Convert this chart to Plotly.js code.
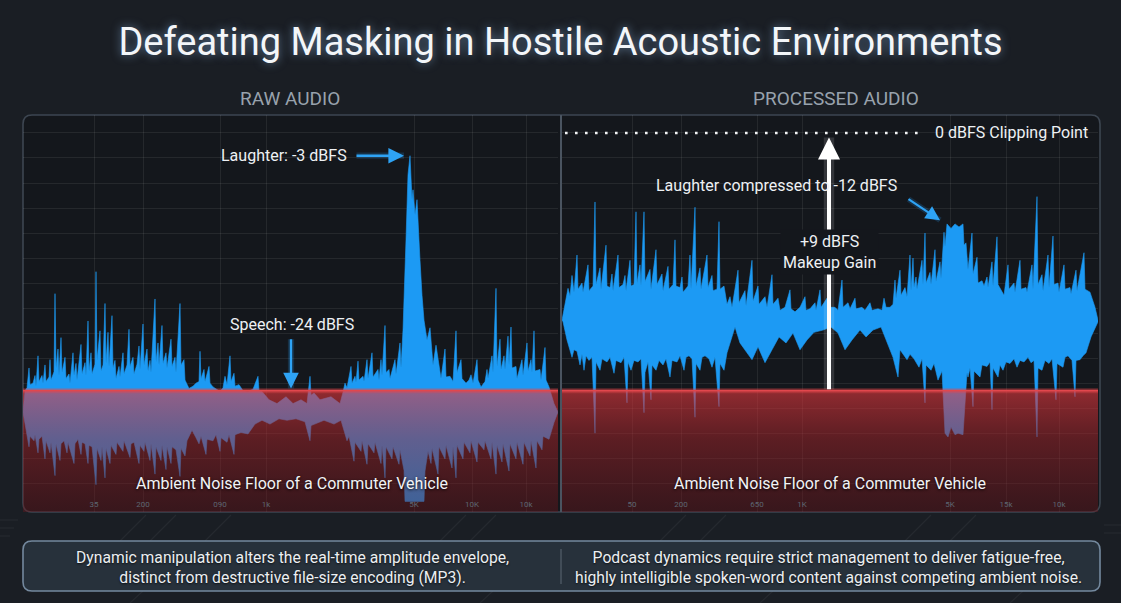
<!DOCTYPE html>
<html>
<head>
<meta charset="utf-8">
<script src="https://cdn.plot.ly/plotly-3.0.1.min.js"></script>
<style>
  html, body { margin: 0; padding: 0; background: #1a1e24; }
  #chart { width: 1121px; height: 603px; }
</style>
</head>
<body>
<div id="chart"></div>
<script>
// ---- Waveform envelopes: [time (ms into the clip), level (dBFS)] ----
const rawPeaks = [[0,-36.8],[2,-34.0],[4,-33.6],[6,-31.0],[7,-33.2],[10,-33.0],[12,-32.0],[13,-33.4],[15,-29.4],[16,-32.8],[19,-32.0],[20,-33.0],[22,-30.6],[23,-32.8],[26,-32.2],[27,-29.9],[28,-32.6],[31,-31.5],[32,-21.2],[33,-31.0],[35,-28.5],[36,-32.0],[38,-27.0],[39,-31.6],[42,-29.6],[43,-32.4],[46,-31.8],[47,-33.0],[50,-29.0],[51,-32.0],[53,-30.4],[54,-32.6],[58,-27.9],[59,-31.8],[62,-30.3],[63,-32.0],[65,-24.8],[66,-31.5],[68,-29.0],[69,-31.8],[72,-30.5],[73,-18.3],[74,-30.0],[77,-26.1],[78,-31.4],[80,-30.6],[82,-22.5],[83,-30.4],[85,-26.3],[86,-30.8],[89,-24.1],[90,-31.0],[92,-30.0],[93,-32.4],[96,-30.8],[97,-32.2],[100,-29.0],[101,-31.8],[104,-30.6],[106,-25.9],[107,-30.8],[110,-29.6],[111,-31.8],[114,-30.5],[116,-28.1],[117,-31.2],[120,-25.2],[121,-30.6],[124,-28.5],[125,-31.4],[127,-30.0],[128,-31.6],[132,-21.9],[133,-30.2],[135,-27.7],[136,-30.6],[139,-25.4],[140,-30.4],[143,-29.0],[144,-31.0],[148,-27.2],[149,-30.8],[152,-29.6],[153,-31.6],[157,-22.5],[158,-30.6],[161,-29.9],[162,-32.6],[166,-33.7],[170,-33.4],[173,-33.0],[176,-32.8],[177,-28.8],[178,-32.4],[181,-31.2],[182,-32.8],[186,-30.8],[187,-33.0],[190,-33.5],[197,-34.1],[200,-33.6],[202,-32.1],[204,-33.2],[207,-29.4],[208,-32.8],[211,-31.7],[212,-33.4],[216,-33.2],[220,-34.0],[225,-34.1],[230,-33.8],[235,-32.1],[236,-34.0],[239,-34.1],[246,-35.2],[254,-35.7],[263,-34.8],[270,-35.7],[278,-35.2],[284,-35.7],[287,-32.1],[288,-34.6],[291,-34.3],[297,-35.2],[308,-34.8],[317,-35.7],[320,-34.2],[322,-33.0],[324,-33.6],[328,-30.8],[329,-33.0],[332,-32.1],[333,-32.9],[335,-30.1],[336,-32.6],[340,-32.1],[341,-32.8],[344,-29.9],[345,-32.4],[349,-29.0],[350,-32.2],[355,-31.2],[356,-32.6],[358,-29.9],[359,-32.0],[362,-25.4],[363,-31.6],[366,-31.2],[367,-32.4],[372,-29.9],[373,-31.8],[377,-27.7],[378,-31.0],[380,-26.0],[383,-14.1],[385,-5.5],[387,-3.0],[389,-8.8],[390,-7.5],[392,-10.8],[394,-8.8],[396,-13.1],[397,-16.8],[399,-21.4],[401,-24.7],[404,-27.3],[407,-25.7],[410,-30.6],[413,-28.0],[417,-31.5],[418,-32.4],[422,-28.5],[423,-32.2],[427,-32.1],[430,-32.8],[433,-26.1],[434,-31.6],[438,-29.9],[439,-32.4],[443,-33.0],[446,-32.6],[448,-31.9],[450,-33.0],[454,-29.9],[455,-32.6],[458,-33.5],[462,-32.8],[464,-31.2],[465,-32.4],[469,-29.4],[470,-31.6],[473,-20.5],[474,-30.8],[477,-27.2],[478,-31.2],[481,-29.4],[482,-31.2],[485,-26.8],[486,-30.6],[488,-25.6],[489,-31.0],[493,-30.8],[494,-32.4],[499,-29.9],[500,-32.0],[504,-27.7],[505,-31.4],[508,-29.9],[509,-31.6],[511,-26.1],[512,-31.4],[517,-31.2],[518,-32.6],[522,-28.3],[523,-32.6],[526,-33.5],[531,-35.7],[535,-36.8]];

const rawTroughs = [[0,-36.8],[3,-39.2],[6,-41.4],[7,-40.0],[11,-40.6],[12,-39.8],[15,-42.2],[16,-40.4],[19,-40.0],[22,-43.0],[23,-40.6],[27,-42.2],[28,-40.8],[32,-45.2],[33,-41.0],[37,-43.2],[38,-41.0],[41,-40.6],[44,-42.2],[45,-40.8],[51,-43.6],[52,-41.0],[55,-40.4],[58,-42.4],[59,-40.8],[62,-41.0],[65,-43.6],[66,-41.2],[69,-41.4],[73,-46.4],[74,-41.6],[78,-43.2],[79,-41.4],[82,-45.5],[83,-41.6],[87,-43.6],[88,-41.2],[93,-42.4],[94,-40.8],[100,-42.0],[101,-40.6],[107,-42.8],[108,-41.0],[111,-40.8],[116,-43.6],[117,-41.2],[121,-42.0],[122,-40.8],[127,-43.2],[128,-41.0],[132,-45.0],[133,-41.4],[138,-43.2],[139,-41.2],[143,-44.4],[144,-41.4],[148,-43.6],[149,-41.4],[153,-41.8],[157,-45.3],[158,-41.6],[162,-42.6],[164,-40.6],[169,-39.2],[173,-40.2],[176,-41.0],[178,-40.0],[183,-42.4],[184,-40.4],[190,-40.6],[193,-39.8],[197,-42.0],[198,-40.2],[204,-40.8],[206,-39.8],[211,-42.4],[212,-39.8],[218,-39.5],[225,-39.7],[232,-38.4],[239,-37.9],[247,-38.4],[256,-37.7],[264,-37.9],[273,-37.7],[282,-38.1],[287,-40.6],[288,-38.6],[292,-38.4],[301,-37.9],[311,-38.4],[318,-37.9],[324,-40.6],[326,-40.0],[331,-43.3],[332,-40.8],[338,-42.0],[339,-40.6],[344,-43.7],[345,-41.0],[351,-42.2],[352,-40.8],[358,-43.6],[359,-41.2],[362,-45.5],[363,-41.4],[369,-43.0],[370,-41.4],[376,-43.7],[377,-41.8],[381,-44.5],[382,-48.6],[401,-48.6],[402,-44.6],[405,-42.0],[408,-43.6],[409,-41.6],[415,-45.0],[416,-41.4],[422,-43.0],[423,-41.2],[429,-44.2],[430,-41.4],[433,-45.5],[434,-41.2],[440,-43.0],[441,-40.8],[447,-42.2],[448,-40.6],[454,-43.4],[455,-40.8],[461,-41.8],[462,-40.6],[468,-43.0],[469,-40.8],[473,-45.0],[474,-41.2],[479,-43.4],[480,-41.0],[486,-44.6],[487,-41.0],[493,-43.0],[494,-40.8],[500,-43.7],[501,-40.8],[507,-42.6],[508,-40.6],[513,-44.2],[514,-40.6],[519,-41.8],[520,-40.0],[526,-40.4],[531,-38.2],[535,-36.8]];

const procPeaks = [[0,-24.7],[3,-22.5],[6,-20.5],[8,-21.5],[10,-18.8],[12,-21.0],[15,-16.1],[16,-20.6],[20,-19.8],[21,-21.0],[26,-17.4],[27,-20.8],[31,-20.2],[33,-9.1],[34,-20.0],[38,-17.8],[39,-20.6],[44,-14.8],[45,-20.2],[48,-20.4],[50,-18.6],[51,-20.8],[56,-16.1],[57,-20.4],[61,-20.0],[63,-18.8],[64,-20.8],[68,-16.8],[69,-20.2],[72,-20.0],[74,-10.4],[75,-19.8],[78,-17.4],[79,-20.2],[82,-10.4],[83,-19.6],[88,-18.0],[89,-20.6],[94,-15.4],[95,-20.0],[100,-18.6],[101,-20.8],[106,-17.6],[107,-20.6],[111,-20.0],[113,-14.1],[114,-20.2],[118,-20.4],[120,-19.0],[121,-21.0],[126,-20.2],[128,-16.1],[129,-20.6],[133,-9.8],[134,-20.2],[138,-17.8],[139,-20.6],[145,-16.1],[146,-20.4],[150,-18.8],[151,-20.8],[155,-20.6],[157,-11.7],[158,-20.6],[162,-20.2],[165,-22.6],[168,-21.6],[170,-23.0],[176,-18.1],[177,-22.4],[183,-20.8],[184,-22.8],[190,-16.8],[191,-22.2],[196,-20.2],[197,-22.6],[203,-21.6],[205,-23.0],[210,-18.7],[211,-22.6],[216,-21.8],[218,-23.4],[223,-23.0],[228,-20.7],[229,-23.2],[233,-23.6],[238,-23.0],[243,-21.6],[244,-23.4],[248,-23.2],[253,-22.4],[254,-23.4],[258,-20.7],[259,-23.0],[265,-21.8],[267,-23.0],[273,-23.0],[276,-23.4],[280,-19.4],[281,-23.0],[286,-22.4],[288,-23.2],[293,-21.8],[294,-23.2],[300,-23.0],[303,-23.4],[308,-22.4],[310,-23.4],[316,-23.2],[320,-23.4],[322,-21.8],[324,-23.0],[328,-23.0],[331,-22.6],[333,-19.4],[334,-21.8],[338,-18.1],[339,-21.4],[343,-20.4],[345,-21.6],[348,-16.1],[349,-20.8],[351,-16.5],[352,-20.4],[354,-19.0],[355,-20.6],[360,-16.8],[361,-20.0],[363,-13.2],[364,-19.8],[368,-18.4],[369,-20.0],[373,-15.4],[374,-19.6],[378,-17.0],[379,-19.2],[382,-13.1],[383,-15.0],[385,-12.0],[389,-12.6],[393,-12.0],[397,-12.4],[401,-12.0],[402,-14.8],[404,-14.5],[406,-18.0],[410,-13.2],[411,-18.6],[415,-16.4],[416,-19.8],[420,-19.5],[422,-20.2],[425,-19.0],[426,-20.4],[430,-17.0],[431,-20.2],[435,-13.7],[436,-20.0],[440,-21.0],[442,-21.4],[446,-17.4],[447,-20.6],[452,-19.8],[453,-21.0],[458,-16.8],[459,-20.6],[464,-20.4],[465,-21.0],[470,-17.4],[471,-20.6],[475,-8.4],[476,-20.0],[480,-18.7],[481,-20.8],[486,-16.1],[487,-20.4],[491,-13.6],[492,-20.0],[496,-19.8],[497,-21.0],[502,-17.4],[503,-20.6],[508,-20.4],[509,-21.2],[514,-18.1],[515,-20.8],[522,-15.8],[523,-20.6],[528,-21.0],[533,-23.0],[536,-24.7]];

const procTroughs = [[0,-24.7],[1,-24.9],[5,-27.3],[7,-28.4],[10,-29.6],[12,-28.6],[15,-28.8],[18,-30.6],[20,-29.2],[22,-31.3],[24,-29.4],[27,-30.0],[30,-29.6],[33,-39.6],[34,-30.2],[38,-31.3],[40,-29.8],[45,-30.2],[48,-29.6],[52,-31.7],[54,-30.0],[59,-30.3],[62,-29.6],[65,-35.6],[66,-30.2],[69,-31.3],[72,-30.0],[76,-30.2],[79,-29.8],[82,-36.9],[83,-31.6],[86,-30.2],[89,-35.2],[90,-30.6],[94,-31.3],[97,-30.0],[101,-30.6],[104,-29.8],[108,-32.2],[110,-30.0],[115,-30.2],[118,-29.4],[122,-31.3],[124,-29.6],[127,-29.4],[130,-29.8],[133,-37.5],[134,-30.4],[138,-31.3],[140,-29.6],[143,-29.4],[147,-29.8],[150,-30.9],[153,-29.6],[157,-36.1],[158,-30.4],[162,-31.3],[165,-29.0],[168,-27.7],[173,-25.6],[178,-27.7],[185,-29.0],[190,-29.9],[196,-28.2],[203,-30.3],[210,-28.6],[217,-26.9],[224,-27.7],[231,-26.4],[238,-28.6],[245,-27.3],[252,-26.3],[261,-26.0],[269,-25.6],[276,-26.4],[283,-28.6],[290,-27.3],[298,-26.0],[304,-26.9],[311,-26.0],[319,-25.6],[324,-27.3],[331,-29.6],[336,-32.2],[338,-28.6],[345,-29.9],[348,-29.2],[352,-29.8],[357,-30.9],[360,-29.8],[363,-35.6],[364,-30.6],[369,-31.3],[372,-30.4],[376,-32.6],[380,-31.4],[383,-39.6],[386,-40.1],[389,-38.8],[393,-39.8],[396,-39.6],[401,-39.8],[403,-36.5],[405,-31.6],[406,-32.2],[408,-31.0],[411,-36.1],[412,-31.4],[418,-32.2],[420,-30.6],[425,-30.8],[428,-30.2],[430,-36.5],[431,-31.0],[436,-32.2],[438,-30.6],[441,-31.3],[444,-30.2],[448,-30.4],[452,-29.8],[455,-30.9],[458,-30.0],[462,-30.2],[466,-29.6],[469,-30.3],[472,-30.0],[475,-40.1],[476,-31.0],[480,-31.3],[483,-30.0],[487,-30.4],[490,-29.8],[494,-35.2],[495,-30.4],[501,-30.9],[503,-29.6],[506,-29.4],[510,-30.0],[513,-34.8],[514,-30.0],[518,-29.9],[521,-29.4],[524,-29.0],[529,-26.9],[536,-24.9]];

// Reference levels (dBFS)
const noiseFloorDb = -34;
const clipDb = 0;
const laughterRawDb = -3;
const laughterProcDb = -12;
const speechDb = -24;
const makeupGainDb = 9;

// Axis tick labels
const rawTickT = [71, 120, 197, 243, 391, 449, 503];
const rawTickText = ['35', '200', '090', '1k', '5K', '10K', '10k'];
const procTickT = [70, 119, 195, 240, 388, 444, 497];
const procTickText = ['50', '200', '650', '1K', '5K', '15k', '10k'];
const procScaleDb = [-29.0, -32.5, -35.1, -37.1, -41.0, -44.1, -46.7];
const procScaleText = ['-20', '-30', '-25', '-30', '-100', '-50', '-60'];

// ---- Layout helpers (pixel positions on the 1121x603 canvas) ----
const W = 1121, H = 603;
const px = x => x / W;
const py = y => 1 - y / H;
const Y_RANGE = [-50.0, 2.37];
const RAW_RANGE = [0, 535];
const PROC_RANGE = [0, 536];
const FONT = 'Roboto, "Open Sans", sans-serif';
const BLUE = '#1c9af4';
const ARROW_BLUE = '#2ea3f5';

function roundedRect(x0, y0, x1, y1, r) {
  const P = (x, y) => px(x) + ',' + py(y);
  return 'M' + P(x0 + r, y0) + ' L' + P(x1 - r, y0) + ' Q' + P(x1, y0) + ' ' + P(x1, y0 + r) +
    ' L' + P(x1, y1 - r) + ' Q' + P(x1, y1) + ' ' + P(x1 - r, y1) +
    ' L' + P(x0 + r, y1) + ' Q' + P(x0, y1) + ' ' + P(x0, y1 - r) +
    ' L' + P(x0, y0 + r) + ' Q' + P(x0, y0) + ' ' + P(x0 + r, y0) + ' Z';
}

// Faint circuit-board traces in the page margins
const circuitTraces = [
  [[0, 528], [14, 528]], [[0, 536], [10, 536]], [[0, 520], [18, 520]],
  [[120, 541], [146, 515]], [[150, 541], [176, 515]], [[205, 541], [231, 515]],
  [[440, 541], [466, 515]], [[470, 541], [496, 515]],
  [[660, 541], [686, 515]], [[700, 541], [726, 515]], [[905, 541], [931, 515]], [[950, 541], [976, 515]],
  [[1104, 525], [1121, 525]], [[1104, 533], [1121, 533]],
  [[130, 603], [143, 591]], [[480, 603], [493, 591]], [[760, 603], [773, 591]], [[1010, 603], [1023, 591]]
];
function tracePath(pts) {
  return pts.map((p, i) => (i ? 'L' : 'M') + px(p[0]) + ',' + py(p[1])).join(' ');
}

// Closed outline: peaks left-to-right, then troughs right-to-left
function envelope(peaks, troughs, xa, ya) {
  const back = troughs.slice().reverse();
  return {
    type: 'scatter', mode: 'lines', xaxis: xa, yaxis: ya,
    x: peaks.map(p => p[0]).concat(back.map(p => p[0])),
    y: peaks.map(p => p[1]).concat(back.map(p => p[1])),
    fill: 'toself', fillcolor: BLUE,
    line: { color: BLUE, width: 0.6 },
    hoverinfo: 'skip', showlegend: false
  };
}

// Translucent band from the bottom of the axis up to the noise floor
function noiseZone(range, xa, ya) {
  return {
    type: 'scatter', mode: 'lines', xaxis: xa, yaxis: ya,
    x: [range[0], range[1], range[1], range[0]],
    y: [Y_RANGE[0], Y_RANGE[0], noiseFloorDb, noiseFloorDb],
    fill: 'toself',
    fillgradient: {
      type: 'vertical',
      colorscale: [[0, 'rgba(105,22,28,0.42)'], [0.6, 'rgba(165,36,42,0.5)'], [1, 'rgba(228,56,62,0.6)']]
    },
    line: { width: 0 },
    hoverinfo: 'skip', showlegend: false
  };
}

const data = [
  envelope(rawPeaks, rawTroughs, 'x', 'y'),
  noiseZone(RAW_RANGE, 'x', 'y'),
  envelope(procPeaks, procTroughs, 'x2', 'y2'),
  noiseZone(PROC_RANGE, 'x2', 'y2')
];

const gridColor = 'rgba(255,255,255,0.075)';
const tickFont = { family: FONT, size: 8, color: '#5d6772' };

const baseY = {
  range: Y_RANGE, domain: [py(512), py(115)], fixedrange: true,
  tick0: 0, dtick: 3.3, showticklabels: false, ticks: '',
  showgrid: true, gridcolor: gridColor, gridwidth: 1, zeroline: false, showline: false
};

const textFont = { family: FONT, size: 16, color: '#eef1f4' };
const summaryFont = { family: FONT, size: 15.7, color: '#eceff2', shadow: '0px 1px 2px rgba(0,0,0,0.7)' };
const headerFont = { family: FONT, size: 19, color: '#98a2ad' };

function arrow(xa, ya, x, y, ax, ay, color, width, size) {
  return [
    // soft glow under the arrow shaft
    { xref: xa, yref: ya, axref: xa, ayref: ya, x: x, y: y, ax: ax, ay: ay, text: '',
      showarrow: true, arrowhead: 0, arrowwidth: width * 2.6, arrowcolor: color.glow },
    { xref: xa, yref: ya, axref: xa, ayref: ya, x: x, y: y, ax: ax, ay: ay, text: '',
      showarrow: true, arrowhead: 2, arrowsize: size, arrowwidth: width, arrowcolor: color.main }
  ];
}
const blueArrow = { main: ARROW_BLUE, glow: 'rgba(40,160,255,0.18)' };
const whiteArrow = { main: '#ffffff', glow: 'rgba(255,255,255,0.13)' };

const layout = {
  width: W, height: H,
  margin: { l: 0, r: 0, t: 0, b: 0 },
  paper_bgcolor: '#1a1e24',
  plot_bgcolor: 'rgba(0,0,0,0)',
  showlegend: false,
  title: {
    text: 'Defeating Masking in Hostile Acoustic Environments',
    x: 0.5, xanchor: 'center', y: py(42), yanchor: 'middle',
    font: { family: FONT, size: 38, color: '#f3f6f9', shadow: '0px 0px 10px rgba(160,205,255,0.55)' }
  },
  xaxis: {
    domain: [px(23), px(558)], range: RAW_RANGE, anchor: 'y', fixedrange: true,
    tickmode: 'array', tickvals: rawTickT, ticktext: rawTickText,
    ticklabelposition: 'inside', tickfont: tickFont, ticks: '',
    showgrid: true, gridcolor: gridColor, zeroline: false, showline: false
  },
  yaxis: Object.assign({ anchor: 'x' }, baseY),
  xaxis2: {
    domain: [px(562), px(1098)], range: PROC_RANGE, anchor: 'y2', fixedrange: true,
    tickmode: 'array', tickvals: procTickT, ticktext: procTickText,
    ticklabelposition: 'inside', tickfont: tickFont, ticks: '',
    showgrid: true, gridcolor: gridColor, zeroline: false, showline: false
  },
  yaxis2: Object.assign({ anchor: 'x2' }, baseY),
  yaxis3: {
    overlaying: 'y2', anchor: 'x2', side: 'right', range: Y_RANGE, fixedrange: true,
    tickmode: 'array', tickvals: procScaleDb, ticktext: procScaleText,
    ticklabelposition: 'inside', tickfont: tickFont, ticks: '',
    showgrid: false, zeroline: false, showline: false
  },
  shapes: circuitTraces.map(t => ({
    type: 'path', xref: 'paper', yref: 'paper', layer: 'below', path: tracePath(t),
    line: { color: 'rgba(255,255,255,0.05)', width: 1.2 }
  })).concat([
    // panel background
    { type: 'path', xref: 'paper', yref: 'paper', layer: 'below',
      path: roundedRect(23, 115, 1100, 512, 9),
      fillcolor: '#14171c', line: { color: '#3d4651', width: 1.6 } },
    // divider between panels
    { type: 'line', xref: 'paper', yref: 'paper', layer: 'above',
      x0: px(561), x1: px(561), y0: py(512), y1: py(115),
      line: { color: '#4a5460', width: 2 } },
    // summary box
    { type: 'path', xref: 'paper', yref: 'paper', layer: 'below',
      path: roundedRect(23, 541, 1100, 591, 9),
      fillcolor: '#27313b', line: { color: '#74899e', width: 1.6 } },
    { type: 'line', xref: 'paper', yref: 'paper',
      x0: px(561), x1: px(561), y0: py(549), y1: py(584),
      line: { color: '#5d6874', width: 1 } },
    // noise floor edges with glow
    { type: 'line', xref: 'x', yref: 'y', x0: RAW_RANGE[0], x1: RAW_RANGE[1], y0: noiseFloorDb, y1: noiseFloorDb,
      line: { color: 'rgba(235,70,75,0.35)', width: 5 } },
    { type: 'line', xref: 'x', yref: 'y', x0: RAW_RANGE[0], x1: RAW_RANGE[1], y0: noiseFloorDb, y1: noiseFloorDb,
      line: { color: '#e2474d', width: 1.8 } },
    { type: 'line', xref: 'x2', yref: 'y2', x0: PROC_RANGE[0], x1: PROC_RANGE[1], y0: noiseFloorDb, y1: noiseFloorDb,
      line: { color: 'rgba(235,70,75,0.35)', width: 5 } },
    { type: 'line', xref: 'x2', yref: 'y2', x0: PROC_RANGE[0], x1: PROC_RANGE[1], y0: noiseFloorDb, y1: noiseFloorDb,
      line: { color: '#e2474d', width: 1.8 } },
    // 0 dBFS clipping line
    { type: 'line', xref: 'x2', yref: 'y2', x0: 3, x1: 363, y0: clipDb, y1: clipDb,
      line: { color: '#f2f4f6', width: 2.6, dash: '2.6px,7.4px' } }
  ]),
  annotations: [].concat(
    [
      { xref: 'paper', yref: 'paper', x: px(290), y: py(98), xanchor: 'center', yanchor: 'middle',
        text: 'RAW AUDIO', showarrow: false, font: headerFont },
      { xref: 'paper', yref: 'paper', x: px(836), y: py(98), xanchor: 'center', yanchor: 'middle',
        text: 'PROCESSED AUDIO', showarrow: false, font: headerFont }
    ],
    // raw: laughter peak
    arrow('x', 'y', 381, laughterRawDb, 332, laughterRawDb, blueArrow, 2.4, 1.3),
    [{ xref: 'x', yref: 'y', x: 261, y: laughterRawDb, text: 'Laughter: ' + laughterRawDb + ' dBFS',
       showarrow: false, font: textFont }],
    // raw: speech level
    arrow('x', 'y', 268, noiseFloorDb + 0.3, 268, -27.0, blueArrow, 2.4, 1.3),
    [{ xref: 'x', yref: 'y', x: 269, y: -25.3, text: 'Speech: ' + speechDb + ' dBFS',
       showarrow: false, font: textFont }],
    [{ xref: 'x', yref: 'y', x: 269, y: -46.2, text: 'Ambient Noise Floor of a Commuter Vehicle', showarrow: false,
       font: { family: FONT, size: 16, color: '#f1f3f5', shadow: '0px 1px 3px rgba(0,0,0,0.9)' } }],
    // processed: clip point
    [{ xref: 'x2', yref: 'y2', x: 528, y: clipDb, xanchor: 'right', text: '0 dBFS Clipping Point',
       showarrow: false, font: textFont }],
    // processed: makeup gain arrow and label
    arrow('x2', 'y2', 267, -0.6, 267, noiseFloorDb, whiteArrow, 4, 1.1),
    [{ xref: 'x2', yref: 'y2', x: 267, y: -15.7, text: '+' + makeupGainDb + ' dBFS<br>Makeup Gain',
       showarrow: false, bgcolor: '#14171c', borderpad: 2, font: textFont }],
    // processed: compressed laughter
    [{ xref: 'x2', yref: 'y2', x: 214, y: -6.9, text: 'Laughter compressed to ' + laughterProcDb + ' dBFS',
       showarrow: false, font: textFont }],
    arrow('x2', 'y2', 378, -11.5, 345, -8.6, blueArrow, 2.2, 1.3),
    [{ xref: 'x2', yref: 'y2', x: 268, y: -46.2, text: 'Ambient Noise Floor of a Commuter Vehicle', showarrow: false,
       font: { family: FONT, size: 16, color: '#f1f3f5', shadow: '0px 1px 3px rgba(0,0,0,0.9)' } }],
    // summary text
    [
      { xref: 'paper', yref: 'paper', x: px(292), y: py(567), xanchor: 'center', yanchor: 'middle', showarrow: false,
        text: 'Dynamic manipulation alters the real-time amplitude envelope,<br>distinct from destructive file-size encoding (MP3).',
        font: summaryFont },
      { xref: 'paper', yref: 'paper', x: px(828), y: py(567), xanchor: 'center', yanchor: 'middle', showarrow: false,
        text: 'Podcast dynamics require strict management to deliver fatigue-free,<br>highly intelligible spoken-word content against competing ambient noise.',
        font: summaryFont }
    ]
  )
};

Plotly.newPlot('chart', data, layout, { displayModeBar: false, staticPlot: true });
</script>
</body>
</html>
